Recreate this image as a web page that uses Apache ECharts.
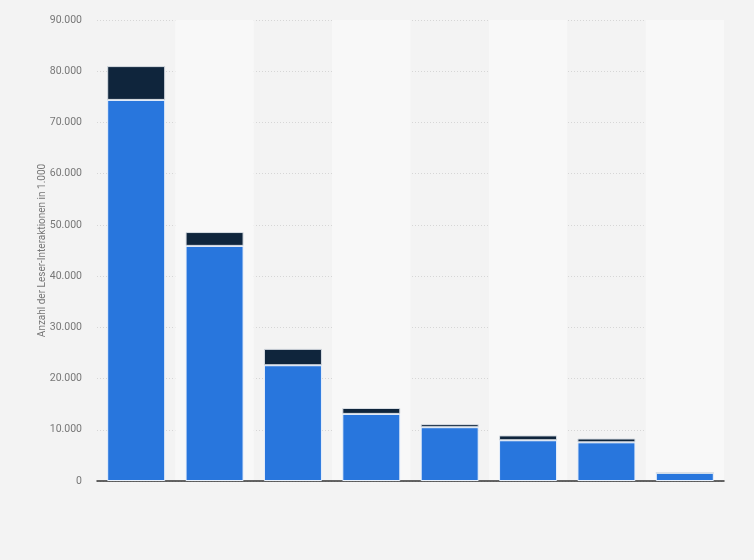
<!DOCTYPE html>
<html>
<head>
<meta charset="utf-8">
<script src="https://cdn.jsdelivr.net/npm/echarts@6/dist/echarts.min.js"></script>
<style>
html,body{margin:0;padding:0;background:#f3f3f3;}
#chart{width:754px;height:560px;}
</style>
</head>
<body>
<div id="chart"></div>
<script>
var categories = ['1', '2', '3', '4', '5', '6', '7', '8'];
var seriesBlue = [74400, 45900, 22600, 13100, 10500, 7950, 7550, 1600];
var seriesDark = [6600, 2700, 3200, 1150, 600, 950, 750, 0];
var yTicks = { min: 0, max: 90000, interval: 10000 };
var axisTitle = 'Anzahl der Leser-Interaktionen in 1.000';

var chart = echarts.init(document.getElementById('chart'), null, {renderer: 'canvas'});
chart.setOption({
  backgroundColor: '#f3f3f3',
  animation: false,
  grid: { left: 97, right: 30, top: 20, bottom: 79, containLabel: false },
  xAxis: {
    type: 'category',
    data: categories,
    axisLine: { show: true, lineStyle: { color: '#333', width: 1.5 } },
    axisTick: { show: false },
    axisLabel: { show: false },
    splitArea: { show: true, areaStyle: { color: ['rgba(0,0,0,0)', '#f8f8f8'] } }
  },
  yAxis: {
    type: 'value',
    min: yTicks.min, max: yTicks.max, interval: yTicks.interval,
    name: axisTitle,
    nameLocation: 'middle',
    nameGap: 50,
    nameMoveOverlap: false,
    nameTextStyle: { color: '#777', fontSize: 10, fontFamily: 'Roboto, sans-serif' },
    axisLine: { show: false },
    axisTick: { show: false },
    axisLabel: {
      color: '#777', fontSize: 10.5, fontFamily: 'Roboto, sans-serif', margin: 15,
      formatter: function (v) { return v === 0 ? '0' : v.toLocaleString('de-DE'); }
    },
    splitLine: { show: true, lineStyle: { color: '#d6d6d6', type: [1, 2], width: 1 } }
  },
  series: [
    {
      type: 'bar', stack: 'a', data: seriesBlue, barWidth: 58,
      itemStyle: { color: '#2876dd', borderColor: '#e8f0fb', borderWidth: 1 }
    },
    {
      type: 'bar', stack: 'a', data: seriesDark, barWidth: 58,
      itemStyle: { color: '#0f253c', borderColor: '#d8dde3', borderWidth: 1 }
    }
  ]
});
</script>
</body>
</html>
